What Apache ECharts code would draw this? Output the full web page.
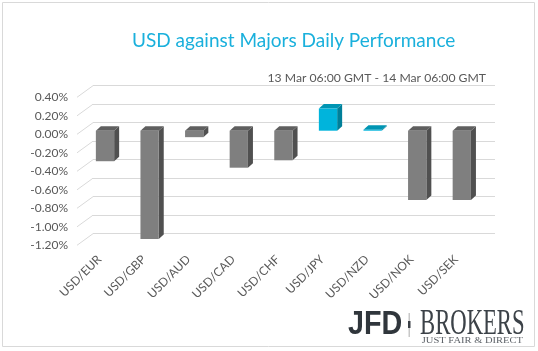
<!DOCTYPE html>
<html>
<head>
<meta charset="utf-8">
<script src="https://cdn.jsdelivr.net/npm/echarts@6/dist/echarts.min.js"></script>
<style>
html, body { margin: 0; padding: 0; background: #fff; }
#main { width: 538px; height: 351px; }
</style>
</head>
<body>
<div id="main"></div>
<script>
// daily change of USD vs each major, in %
var pairs = ['USD/EUR', 'USD/GBP', 'USD/AUD', 'USD/CAD', 'USD/CHF', 'USD/JPY', 'USD/NZD', 'USD/NOK', 'USD/SEK'];
var changes = [-0.33, -1.17, -0.07, -0.40, -0.32, 0.24, 0.01, -0.75, -0.75];
var yTicks = [0.4, 0.2, 0, -0.2, -0.4, -0.6, -0.8, -1.0, -1.2];

var FONT = 'Lato, "Open Sans", sans-serif';
var DX = 5, DY = 4.5;       // bar depth
var SX = 16, SY = 11.6;     // floor depth (front labels -> back wall)
var gray = { front: '#7f7f7f', top: '#5f5f5f', side: '#505050' };
var cyan = { front: '#00b4dc', top: '#0095b3', side: '#007f99' };

function renderBar(params, api) {
    var i = api.value(0), v = api.value(1);
    var base = api.coord([i, 0]);
    var tip = api.coord([i, v]);
    var w = api.size([1, 0])[0] * 0.41;
    var x0 = base[0] - w / 2, x1 = x0 + w;
    var yTop = Math.min(base[1], tip[1]), yBot = Math.max(base[1], tip[1]);
    var c = v > 0 ? cyan : gray;
    return {
        type: 'group',
        children: [
            { type: 'polygon', shape: { points: [[x1, yTop], [x1 + DX, yTop - DY], [x1 + DX, yBot - DY], [x1, yBot]] }, style: { fill: c.side } },
            { type: 'polygon', shape: { points: [[x0, yTop], [x0 + DX, yTop - DY], [x1 + DX, yTop - DY], [x1, yTop]] }, style: { fill: c.top } },
            { type: 'rect', shape: { x: x0, y: yTop, width: w, height: yBot - yTop }, style: { fill: c.front } }
        ]
    };
}

function renderSlant(params, api) {
    var p = api.coord([0, api.value(1)]);
    return {
        type: 'line',
        shape: { x1: p[0] - SX, y1: p[1] + SY, x2: p[0], y2: p[1] },
        style: { stroke: '#d9d9d9', lineWidth: 1 }
    };
}

var myChart = echarts.init(document.getElementById('main'));

myChart.setOption({
    animation: false,
    title: [
        {
            text: 'USD against Majors Daily Performance',
            left: 127, top: 26,
            textStyle: { fontFamily: FONT, fontSize: 19, fontWeight: 'normal', color: '#1ab0dc' }
        },
        {
            text: '13 Mar 06:00 GMT - 14 Mar 06:00 GMT',
            right: 47, top: 67,
            textStyle: { fontFamily: FONT, fontSize: 12.2, fontWeight: 'normal', color: '#595959' }
        }
    ],
    grid: [
        { left: 93, top: 85.7, width: 402, height: 148 },     // back wall
        { left: 82.7, top: 93.7, width: 401.4, height: 148 }, // bars
        { left: 77, top: 97.3, width: 400, height: 148 }      // front labels
    ],
    xAxis: [
        { gridIndex: 0, type: 'value', min: 0, max: 1, show: false },
        {
            gridIndex: 1, type: 'category', data: pairs,
            axisLine: { show: false }, axisTick: { show: false },
            axisLabel: { rotate: 45, margin: 10, padding: [0, 8, 0, 0], fontFamily: FONT, fontSize: 12, color: '#595959' }
        },
        { gridIndex: 2, type: 'value', min: 0, max: 1, show: false }
    ],
    yAxis: [
        {
            gridIndex: 0, type: 'value', min: -1.2, max: 0.4, interval: 0.2,
            axisLine: { show: false }, axisTick: { show: false }, axisLabel: { show: false },
            splitLine: { lineStyle: { color: '#d9d9d9', width: 1 } }
        },
        {
            gridIndex: 1, type: 'value', min: -1.2, max: 0.4, interval: 0.2,
            axisLine: { show: false }, axisTick: { show: false }, axisLabel: { show: false },
            splitLine: { show: false }
        },
        {
            gridIndex: 2, type: 'value', min: -1.2, max: 0.4, interval: 0.2,
            axisLine: { show: false }, axisTick: { show: false }, splitLine: { show: false },
            axisLabel: {
                margin: 9, fontFamily: FONT, fontSize: 12, color: '#595959',
                formatter: function (v) { return v.toFixed(2) + '%'; }
            }
        }
    ],
    series: [
        {
            type: 'custom', xAxisIndex: 0, yAxisIndex: 0, silent: true,
            renderItem: renderSlant,
            data: yTicks.map(function (v) { return [0, v]; })
        },
        {
            type: 'custom', xAxisIndex: 1, yAxisIndex: 1,
            renderItem: renderBar,
            encode: { x: 0, y: 1 },
            data: changes.map(function (v, i) { return [i, v]; })
        }
    ],
    graphic: [
        { type: 'rect', shape: { x: 2.5, y: 2.5, width: 532, height: 344 }, style: { fill: 'none', stroke: '#d9d9d9', lineWidth: 1 }, silent: true },
        { type: 'text', x: 348, y: 325, scaleX: 0.87, style: { text: 'JFD', font: 'bold 33px "Liberation Sans"', fill: '#30363c', textVerticalAlign: 'middle' } },
        { type: 'rect', shape: { x: 408.5, y: 313, width: 1.5, height: 24 }, style: { fill: '#c8c8c8' } },
        { type: 'rect', shape: { x: 408, y: 321, width: 2.5, height: 7 }, style: { fill: '#3a3f45' } },
        { type: 'text', x: 420, y: 325, scaleX: 0.63, style: { text: 'BROKERS', font: '36px "Liberation Serif"', fill: '#3c4248', textVerticalAlign: 'middle' } },
        { type: 'text', x: 421.7, y: 341, scaleX: 1.17, style: { text: 'JUST FAIR & DIRECT', font: '9px "Liberation Serif"', fill: '#5a5f65', textVerticalAlign: 'middle' } }
    ]
});
</script>
</body>
</html>
